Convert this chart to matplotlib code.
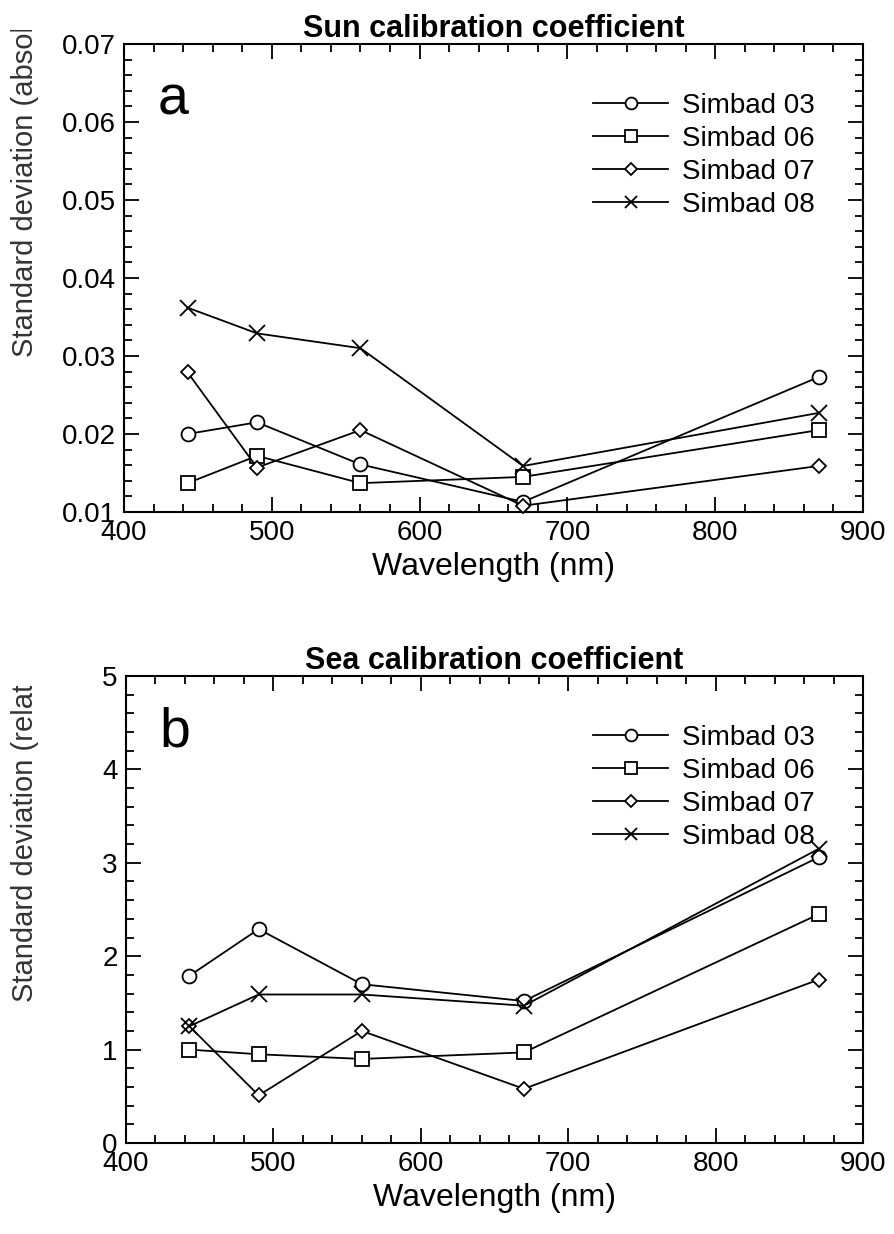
import matplotlib
matplotlib.use('Agg')
import matplotlib.pyplot as plt
from matplotlib.ticker import MultipleLocator
from matplotlib.patches import Rectangle

plt.rcParams['font.family'] = ['Liberation Sans', 'DejaVu Sans']

# SIMBAD channels (nm)
wavelength = [443, 490, 560, 670, 870]
series_names = ['Simbad 03', 'Simbad 06', 'Simbad 07', 'Simbad 08']

# panel a: sun calibration coefficient, std (absolute)
sun_03 = [0.0200, 0.0215, 0.0161, 0.0113, 0.0273]
sun_06 = [0.0137, 0.0172, 0.0137, 0.0145, 0.0205]
sun_07 = [0.0279, 0.0157, 0.0205, 0.0108, 0.0159]
sun_08 = [0.0362, 0.0329, 0.0310, 0.0159, 0.0227]

# panel b: sea calibration coefficient, std (relative)
sea_03 = [1.79, 2.29, 1.70, 1.52, 3.06]
sea_06 = [1.00, 0.95, 0.90, 0.97, 2.45]
sea_07 = [1.25, 0.51, 1.20, 0.58, 1.75]
sea_08 = [1.25, 1.59, 1.59, 1.47, 3.15]

markers = ['o', 's', 'D', 'x']
msizes = [10, 10, 7, 11]

W, H = 895, 1234
fig = plt.figure(figsize=(W / 100, H / 100), dpi=100)


def px_axes(left, top, right, bottom):
    return fig.add_axes([left / W, 1 - bottom / H, (right - left) / W, (bottom - top) / H])


def style_axes(ax, ymajor, yminor):
    ax.set_xlim(400, 900)
    ax.xaxis.set_major_locator(MultipleLocator(100))
    ax.xaxis.set_minor_locator(MultipleLocator(20))
    ax.yaxis.set_major_locator(MultipleLocator(ymajor))
    ax.yaxis.set_minor_locator(MultipleLocator(yminor))
    ax.tick_params(which='both', direction='in', top=True, right=True, width=1.3)
    ax.tick_params(which='major', length=11, labelsize=20, pad=6)
    ax.tick_params(which='minor', length=5.5)
    for s in ax.spines.values():
        s.set_linewidth(1.5)
    ax.set_xlabel('Wavelength (nm)', fontsize=23, labelpad=4)


def clipped_ylabel(text, x_px, y_bottom_px, clip_top_px):
    # the original label runs past the top and is cut off there
    fig.text(x_px / W, 1 - y_bottom_px / H, text, rotation=90,
             ha='center', va='bottom', fontsize=21, color='#333333', zorder=3)
    fig.add_artist(Rectangle((0, 1 - clip_top_px / H), 55 / W, 80 / H,
                             transform=fig.transFigure, facecolor='white',
                             edgecolor='none', zorder=10))


def draw_panel(ax, data):
    for vals, name, m, ms in zip(data, series_names, markers, msizes):
        ax.plot(wavelength, vals, color='black', lw=1.3, marker=m, ms=ms,
                mfc='white' if m != 'x' else 'black', mec='black', mew=1.3,
                label=name, clip_on=False, zorder=3)
    ax.legend(loc='upper right', bbox_to_anchor=(0.935, 0.895), frameon=False,
              fontsize=20, handlelength=2.7, handletextpad=0.5,
              labelspacing=0.25, borderpad=0, borderaxespad=0, markerscale=0.85)


# panel a
ax1 = px_axes(124, 44, 863, 512)
draw_panel(ax1, [sun_03, sun_06, sun_07, sun_08])
ax1.set_ylim(0.01, 0.07)
style_axes(ax1, 0.01, 0.002)
ax1.set_title('Sun calibration coefficient', fontsize=22, fontweight='bold', pad=2)
ax1.text(0.045, 0.935, 'a', transform=ax1.transAxes, fontsize=40, va='top', ha='left')
clipped_ylabel('Standard deviation (absolute)', 25, 357, 30)

# panel b
ax2 = px_axes(126, 676, 863, 1143)
draw_panel(ax2, [sea_03, sea_06, sea_07, sea_08])
ax2.set_ylim(0, 5)
style_axes(ax2, 1, 0.2)
ax2.set_title('Sea calibration coefficient', fontsize=22, fontweight='bold', pad=2)
ax2.text(0.045, 0.935, 'b', transform=ax2.transAxes, fontsize=40, va='top', ha='left')
clipped_ylabel('Standard deviation (relative)', 25, 1002, 686)

fig.savefig('out.png', dpi=100)
